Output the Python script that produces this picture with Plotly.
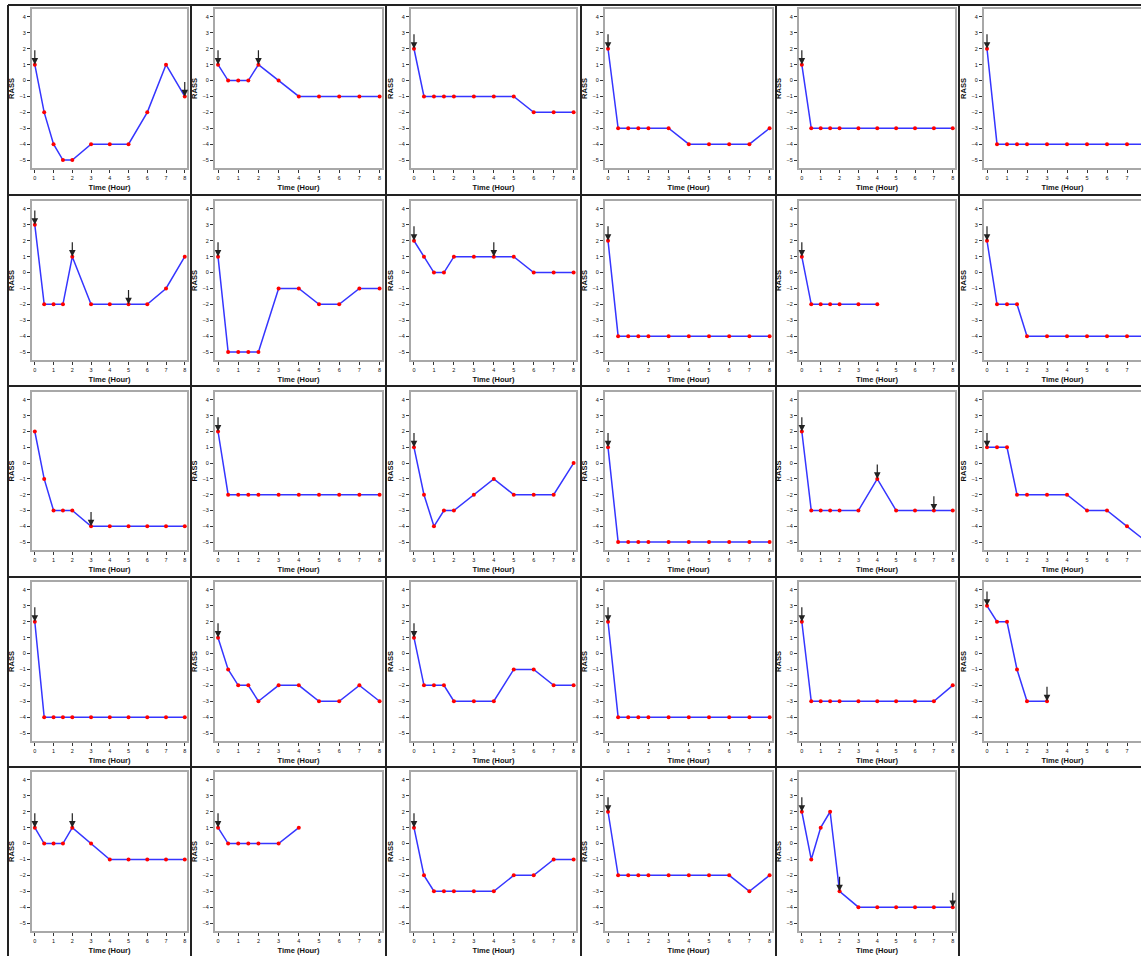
import plotly.graph_objects as go

# ---------------- data ----------------
times = [0, 0.5, 1, 1.5, 2, 3, 4, 5, 6, 7, 8]
y_ticks = [-5, -4, -3, -2, -1, 0, 1, 2, 3, 4]
x_ticks = [0, 1, 2, 3, 4, 5, 6, 7, 8]

p01 = [1, -2, -4, -5, -5, -4, -4, -4, -2, 1, -1]
p02 = [1, 0, 0, 0, 1, 0, -1, -1, -1, -1, -1]
p03 = [2, -1, -1, -1, -1, -1, -1, -1, -2, -2, -2]
p04 = [2, -3, -3, -3, -3, -3, -4, -4, -4, -4, -3]
p05 = [1, -3, -3, -3, -3, -3, -3, -3, -3, -3, -3]
p06 = [2, -4, -4, -4, -4, -4, -4, -4, -4, -4, -4]
p07 = [3, -2, -2, -2, 1, -2, -2, -2, -2, -1, 1]
p08 = [1, -5, -5, -5, -5, -1, -1, -2, -2, -1, -1]
p09 = [2, 1, 0, 0, 1, 1, 1, 1, 0, 0, 0]
p10 = [2, -4, -4, -4, -4, -4, -4, -4, -4, -4, -4]
p11 = [1, -2, -2, -2, -2, -2, -2]
p12 = [2, -2, -2, -2, -4, -4, -4, -4, -4, -4, -4]
p13 = [2, -1, -3, -3, -3, -4, -4, -4, -4, -4, -4]
p14 = [2, -2, -2, -2, -2, -2, -2, -2, -2, -2, -2]
p15 = [1, -2, -4, -3, -3, -2, -1, -2, -2, -2, 0]
p16 = [1, -5, -5, -5, -5, -5, -5, -5, -5, -5, -5]
p17 = [2, -3, -3, -3, -3, -3, -1, -3, -3, -3, -3]
p18 = [1, 1, 1, -2, -2, -2, -2, -3, -3, -4, -5]
p19 = [2, -4, -4, -4, -4, -4, -4, -4, -4, -4, -4]
p20 = [1, -1, -2, -2, -3, -2, -2, -3, -3, -2, -3]
p21 = [1, -2, -2, -2, -3, -3, -3, -1, -1, -2, -2]
p22 = [2, -4, -4, -4, -4, -4, -4, -4, -4, -4, -4]
p23 = [2, -3, -3, -3, -3, -3, -3, -3, -3, -3, -2]
p24 = [3, 2, 2, -1, -3, -3]
p25 = [1, 0, 0, 0, 1, 0, -1, -1, -1, -1, -1]
p26 = [1, 0, 0, 0, 0, 0, 1]
p27 = [1, -2, -3, -3, -3, -3, -3, -2, -2, -1, -1]
p28 = [2, -2, -2, -2, -2, -2, -2, -2, -2, -3, -2]
p29 = [2, -1, 1, 2, -3, -4, -4, -4, -4, -4, -4]

# dose times (arrows)
a01 = [0, 8]
a02 = [0, 2]
a03 = [0]
a04 = [0]
a05 = [0]
a06 = [0]
a07 = [0, 2, 5]
a08 = [0]
a09 = [0, 4]
a10 = [0]
a11 = [0]
a12 = [0]
a13 = [3]
a14 = [0]
a15 = [0]
a16 = [0]
a17 = [0, 4, 7]
a18 = [0]
a19 = [0]
a20 = [0]
a21 = [0]
a22 = [0]
a23 = [0]
a24 = [0, 3]
a25 = [0, 2]
a26 = [0]
a27 = [0]
a28 = [0]
a29 = [0, 2, 8]

patients = [p01, p02, p03, p04, p05, p06, p07, p08, p09, p10, p11, p12, p13, p14, p15,
            p16, p17, p18, p19, p20, p21, p22, p23, p24, p25, p26, p27, p28, p29]
arrows = [a01, a02, a03, a04, a05, a06, a07, a08, a09, a10, a11, a12, a13, a14, a15,
          a16, a17, a18, a19, a20, a21, a22, a23, a24, a25, a26, a27, a28, a29]

# ---------------- layout geometry (pixels) ----------------
W, H = 1141, 956
col_px = [(32, 187), (215, 382), (411, 576), (605, 772), (799, 955), (984, 1141)]
row_px = [(9, 168), (201, 360), (392, 550), (582, 741), (772, 931)]
vlines = [8, 191, 386, 581, 776, 959]
hlines = [5, 195, 386, 577, 767]

FONT = "Liberation Sans, Arial, sans-serif"

fig = go.Figure()
annotations = []
layout_axes = {}

for i, vals in enumerate(patients):
    r, c = divmod(i, 6)
    n = i + 1
    xs = "x" if n == 1 else f"x{n}"
    ys = "y" if n == 1 else f"y{n}"
    t = times[:len(vals)]
    fig.add_trace(go.Scatter(
        x=t, y=vals, xaxis=xs, yaxis=ys, mode="lines+markers",
        line=dict(color="#3535ff", width=1.5),
        marker=dict(color="red", size=4, symbol="circle"),
        showlegend=False, hoverinfo="skip"))
    for at in arrows[i]:
        v = vals[t.index(at)]
        annotations.append(dict(
            x=at, y=v, ax=at, ay=v + 1, xref=xs, yref=ys, axref=xs, ayref=ys,
            text="", showarrow=True, arrowhead=2, arrowsize=1.1, arrowwidth=1.2,
            arrowcolor="#222222", standoff=0))
    x0, x1 = col_px[c]
    yt, yb = row_px[r]
    last = (c == 5)
    xr = [-0.15, 7.7] if last else [-0.15, 8.12]
    ax_common = dict(showline=True, linecolor="#a8a8a8", linewidth=2,
                     ticks="outside", ticklen=3, tickwidth=1, tickcolor="#333",
                     tickfont=dict(size=5.5, family=FONT, color="#111"),
                     showgrid=False, zeroline=False, fixedrange=True)
    layout_axes["xaxis" if n == 1 else f"xaxis{n}"] = dict(
        domain=[x0 / W, x1 / W], range=xr, anchor=ys, mirror=True,
        tickvals=x_ticks,
        title=dict(text="<b>Time (Hour)</b>", standoff=5,
                   font=dict(size=7.5, family=FONT, color="#111")),
        **ax_common)
    layout_axes["yaxis" if n == 1 else f"yaxis{n}"] = dict(
        domain=[1 - yb / H, 1 - yt / H], range=[-5.5, 4.5], anchor=xs,
        mirror=(not last), tickvals=y_ticks,
        title=dict(text="<b>RASS</b>", standoff=4,
                   font=dict(size=7.5, family=FONT, color="#111")),
        **ax_common)

shapes = []
for xv in vlines:
    shapes.append(dict(type="line", xref="paper", yref="paper",
                       x0=xv / W, x1=xv / W, y0=1 - 5 / H, y1=0,
                       line=dict(color="#222", width=2)))
for yv in hlines:
    shapes.append(dict(type="line", xref="paper", yref="paper",
                       x0=8 / W, x1=1, y0=1 - yv / H, y1=1 - yv / H,
                       line=dict(color="#222", width=2)))

fig.update_layout(
    width=W, height=H, margin=dict(l=0, r=0, t=0, b=0),
    paper_bgcolor="white", plot_bgcolor="white", showlegend=False,
    annotations=annotations, shapes=shapes,
    font=dict(family=FONT, color="#111"),
    **layout_axes)

fig.write_html("out.html", config={"displayModeBar": False},
               post_script="document.body.style.margin='0';document.body.style.overflow='hidden';")
